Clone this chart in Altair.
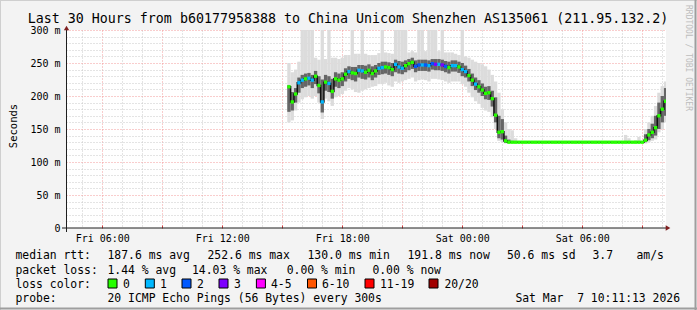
import altair as alt
import pandas as pd

# ---------------- data ----------------
# one sample every 10 minutes, first sample Fri 15:20 (hours counted from Fri 00:00)
sample_start_h = 15 + 20 / 60
sample_step_h = 10 / 60
window_start_h = 4 + 11.2 / 60      # Fri 04:11:13
window_end_h = 34 + 11.2 / 60       # Sat 10:11:13

median_ms = [
    214, 191, 203, 220, 224, 226, 227, 224, 230, 216,
    191, 221, 219, 207, 226, 224, 226, 233, 237, 235,
    234, 239, 238, 236, 239, 234, 238, 242, 243, 244,
    243, 240, 248, 244, 242, 246, 249, 251, 245, 247,
    247, 247, 246, 249, 248, 248, 247, 245, 243, 246,
    246, 244, 240, 237, 231, 224, 218, 214, 209, 204,
    205, 196, 171, 145, 146, 132, 130, 130, 130, 130,
    130, 130, 130, 130, 130, 130, 130, 130, 130, 130,
    130, 130, 130, 130, 130, 130, 130, 130, 130, 130,
    130, 130, 130, 130, 130, 130, 130, 130, 130, 130,
    130, 130, 130, 130, 130, 130, 130, 133, 141, 145,
    152, 170, 180, 192,
]
loss_pings = [
    0, 0, 0, 1, 1, 0, 1, 1, 0, 0,
    1, 0, 1, 0, 0, 0, 0, 0, 1, 0,
    0, 1, 1, 0, 0, 0, 0, 1, 1, 0,
    0, 0, 1, 1, 1, 0, 0, 0, 2, 2,
    1, 2, 1, 2, 3, 1, 3, 2, 0, 1,
    1, 0, 1, 1, 0, 0, 1, 0, 0, 0,
    0, 0, 0, 0, 0, 0, 0, 0, 0, 0,
    0, 0, 0, 0, 0, 0, 0, 0, 0, 0,
    0, 0, 0, 0, 0, 0, 0, 0, 0, 0,
    0, 0, 0, 0, 0, 0, 0, 0, 0, 0,
    0, 0, 0, 0, 0, 0, 0, 0, 0, 0,
    0, 0, 0, 0,
]
smoke_lo = [
    160, 163, 178, 190, 195, 198, 200, 196, 200, 190,
    165, 196, 192, 185, 198, 200, 203, 208, 212, 210,
    206, 205, 208, 210, 212, 214, 215, 218, 218, 220,
    216, 214, 222, 220, 222, 224, 226, 228, 222, 224,
    225, 224, 222, 226, 226, 225, 224, 222, 220, 222,
    222, 222, 218, 214, 205, 198, 192, 188, 182, 178,
    176, 168, 150, 132, 130, 128, 128, 129, 129, 129,
    129, 129, 129, 129, 129, 129, 129, 129, 129, 129,
    129, 129, 129, 129, 129, 129, 129, 129, 129, 129,
    129, 129, 129, 129, 129, 129, 129, 129, 129, 129,
    129, 129, 129, 129, 129, 129, 129, 128, 130, 132,
    134, 145, 150, 160,
]
smoke_hi = [
    250, 236, 240, 252, 310, 310, 310, 310, 258, 255,
    310, 256, 310, 258, 258, 256, 258, 262, 262, 310,
    264, 264, 310, 264, 262, 262, 262, 265, 310, 266,
    265, 264, 310, 310, 310, 310, 266, 268, 266, 310,
    310, 268, 310, 310, 310, 268, 310, 266, 266, 266,
    264, 262, 310, 260, 258, 255, 252, 250, 248, 245,
    240, 232, 222, 205, 180, 160, 150, 148, 136, 131,
    131, 131, 131, 131, 131, 131, 131, 131, 131, 131,
    131, 131, 131, 131, 131, 131, 131, 131, 131, 131,
    131, 131, 131, 131, 131, 131, 131, 131, 131, 131,
    131, 141, 136, 131, 133, 138, 132, 150, 160, 170,
    185, 205, 215, 222,
]
core_lo = [
    176, 178, 190, 205, 212, 214, 216, 212, 218, 204,
    175, 208, 206, 196, 214, 212, 215, 222, 226, 224,
    222, 228, 226, 225, 228, 224, 228, 232, 233, 234,
    232, 230, 236, 234, 233, 236, 239, 241, 236, 238,
    238, 238, 237, 240, 239, 239, 238, 236, 234, 237,
    237, 235, 230, 228, 222, 215, 209, 205, 200, 195,
    194, 184, 160, 136, 134, 129, 129, 129, 129, 129,
    129, 129, 129, 129, 129, 129, 129, 129, 129, 129,
    129, 129, 129, 129, 129, 129, 129, 129, 129, 129,
    129, 129, 129, 129, 129, 129, 129, 129, 129, 129,
    129, 129, 129, 129, 129, 129, 129, 130, 133, 136,
    140, 150, 160, 170,
]
core_hi = [
    216, 206, 212, 228, 232, 234, 235, 232, 238, 230,
    225, 232, 230, 226, 236, 234, 236, 242, 245, 244,
    244, 247, 247, 246, 248, 245, 247, 250, 252, 252,
    251, 250, 255, 253, 252, 254, 256, 258, 254, 255,
    255, 255, 254, 256, 256, 256, 255, 253, 252, 254,
    254, 252, 250, 246, 241, 234, 228, 224, 219, 214,
    215, 208, 198, 170, 165, 140, 134, 132, 131, 131,
    131, 131, 131, 131, 131, 131, 131, 131, 131, 131,
    131, 131, 131, 131, 131, 131, 131, 131, 131, 131,
    131, 131, 131, 131, 131, 131, 131, 131, 131, 131,
    131, 131, 131, 131, 131, 131, 131, 142, 150, 158,
    170, 190, 200, 212,
]

loss_levels = [0, 1, 2, 3, 5, 10, 19, 20]
loss_colors = ["#26ff00", "#00b8ff", "#0059ff", "#7e00ff",
               "#ff00ff", "#ff5500", "#ff0000", "#a10000"]
loss_legend_labels = ["0", "1", "2", "3", "4-5", "6-10", "11-19", "20/20"]

x_minor_ticks = [5, 7, 8, 10, 11, 13, 14, 16, 17, 19, 20, 22, 23, 25, 26, 28, 29, 31, 32, 34]
x_major_ticks = [6, 9, 12, 15, 18, 21, 24, 27, 30, 33]
x_label_ticks = [6, 12, 18, 24, 30]
x_labels = ["Fri 06:00", "Fri 12:00", "Fri 18:00", "Sat 00:00", "Sat 06:00"]

y_minor_ticks = [10, 20, 30, 40, 60, 70, 80, 90, 110, 120, 130, 140, 160, 170, 180, 190,
                 210, 220, 230, 240, 260, 270, 280, 290]
y_major_ticks = [50, 100, 150, 200, 250, 300]
y_label_ticks = [0, 50, 100, 150, 200, 250, 300]
y_labels = ["0\u00a0\u00a0", "50 m", "100 m", "150 m", "200 m", "250 m", "300 m"]

title_text = "Last 30 Hours from b60177958388 to China Unicom Shenzhen AS135061 (211.95.132.2)"
rtt_line = [("median rtt:", 15.5), ("187.6 ms avg", 107.5), ("252.6 ms max", 207.5),
            ("130.0 ms min", 307.5), ("191.8 ms now", 407.5), ("50.6 ms sd", 507),
            ("3.7", 592.5), ("am/s", 636.5)]
loss_line = [("packet loss:", 15.5), ("1.44 % avg", 107.5), ("14.03 % max", 192),
             ("0.00 % min", 286.7), ("0.00 % now", 372.4)]
probe_text = "20 ICMP Echo Pings (56 Bytes) every 300s"
stamp_text = "Sat Mar\u00a0\u00a07 10:11:13 2026"

# ---------------- layout ----------------
PAD_L, PAD_T = 66, 30
W, H = 600, 198
TOTAL_W, TOTAL_H = 697, 310
MONO = "DejaVu Sans Mono"

df = pd.DataFrame({
    "med": median_ms, "loss": loss_pings,
    "lo": smoke_lo, "hi": smoke_hi, "clo": core_lo, "chi": core_hi,
})
df["t"] = sample_start_h + df.index * sample_step_h
df["t0"] = df["t"] - sample_step_h / 2
df["t1"] = df["t"] + sample_step_h / 2

xs = alt.Scale(domain=[window_start_h, window_end_h], nice=False, zero=False)
ys = alt.Scale(domain=[0, 300], nice=False, zero=False)


def tern(ticks, labels):
    expr = "''"
    for v, l in reversed(list(zip(ticks, labels))):
        expr = f"datum.value == {v} ? '{l}' : ({expr})"
    return expr


base = alt.Chart(df)
GRID_GREY = "#c9c9c9"
GRID_RED = "#f29a9a"

grid_minor = base.mark_point(opacity=0).encode(
    x=alt.X("t:Q", scale=xs, axis=alt.Axis(
        orient="bottom", values=x_minor_ticks, grid=True, gridColor=GRID_GREY,
        gridDash=[1, 2], labels=False, ticks=False, domain=False, title=None)),
    y=alt.Y("med:Q", scale=ys, axis=alt.Axis(
        orient="left", values=y_minor_ticks, grid=True, gridColor=GRID_GREY,
        gridDash=[1, 2], labels=False, ticks=False, domain=False, title=None)),
)
grid_major = base.mark_point(opacity=0).encode(
    x=alt.X("t:Q", scale=xs, axis=alt.Axis(
        orient="bottom", values=x_major_ticks, grid=True, gridColor=GRID_RED,
        gridDash=[1, 2], labels=False, ticks=False, domain=False, title=None)),
    y=alt.Y("med:Q", scale=ys, axis=alt.Axis(
        orient="left", values=y_major_ticks, grid=True, gridColor=GRID_RED,
        gridDash=[1, 2], labels=False, ticks=False, domain=False, title=None)),
)
label_axes = base.mark_point(opacity=0).encode(
    x=alt.X("t:Q", scale=xs, axis=alt.Axis(
        orient="bottom", values=x_label_ticks, grid=False, ticks=False, domain=False,
        labelExpr=tern(x_label_ticks, x_labels), labelFont=MONO, labelFontSize=10,
        labelColor="#000000", labelPadding=5, labelFlush=False, labelOverlap=False,
        title=None)),
    y=alt.Y("med:Q", scale=ys, axis=alt.Axis(
        orient="left", values=y_label_ticks, grid=False, ticks=False, domain=False,
        labelExpr=tern(y_label_ticks, y_labels), labelFont=MONO, labelFontSize=10,
        labelColor="#000000", labelPadding=6, labelFlush=False, labelOverlap=False,
        labelBaseline="middle", title=None)),
)
tick_axis = base.mark_point(opacity=0).encode(
    x=alt.X("t:Q", scale=xs, axis=alt.Axis(
        orient="bottom", values=x_major_ticks, grid=False, ticks=True, tickColor="#d04040",
        tickSize=3, offset=-3, labels=False, domain=False, title=None)),
)

smoke = base.mark_rect(color="#dcdcdc", clip=True).encode(
    x=alt.X("t0:Q", scale=xs, axis=None), x2="t1:Q",
    y=alt.Y("lo:Q", scale=ys, axis=None), y2="hi:Q")
core = base.mark_rect(color="#666666", clip=True).encode(
    x=alt.X("t0:Q", scale=xs, axis=None), x2="t1:Q",
    y=alt.Y("clo:Q", scale=ys, axis=None), y2="chi:Q")
med_line = base.mark_line(color="#111111", strokeWidth=1.5, interpolate="step", clip=True).encode(
    x=alt.X("t:Q", scale=xs, axis=None), y=alt.Y("med:Q", scale=ys, axis=None))
med_pts = base.mark_square(size=11, opacity=1, strokeWidth=0, clip=True).encode(
    x=alt.X("t:Q", scale=xs, axis=None), y=alt.Y("med:Q", scale=ys, axis=None),
    color=alt.Color("loss:N", scale=alt.Scale(domain=loss_levels, range=loss_colors), legend=None))

one = pd.DataFrame({"a": [0]})


def txt(s, x, y, size=11.4, align="left", color="#000000", angle=0, baseline="alphabetic"):
    return alt.Chart(one).mark_text(
        text=s, align=align, baseline=baseline, font=MONO, fontSize=size,
        color=color, angle=angle).encode(
        x=alt.value(x - PAD_L), y=alt.value(y - PAD_T))


def rule(x1, y1, x2, y2, color, width=1):
    return alt.Chart(one).mark_rule(color=color, strokeWidth=width).encode(
        x=alt.value(x1 - PAD_L), x2=alt.value(x2 - PAD_L),
        y=alt.value(y1 - PAD_T), y2=alt.value(y2 - PAD_T))


deco = []
# axis lines and arrows
deco.append(rule(62, 228, 666, 228, "#1f1f1f"))
deco.append(rule(66.5, 232, 66.5, 30, "#1f1f1f"))
deco.append(alt.Chart(one).mark_point(shape="triangle-right", filled=True, size=28,
                                      color="#7f1f1f", opacity=1).encode(
    x=alt.value(668 - PAD_L), y=alt.value(228 - PAD_T)))
deco.append(alt.Chart(one).mark_point(shape="triangle-up", filled=True, size=28,
                                      color="#7f1f1f", opacity=1).encode(
    x=alt.value(66.5 - PAD_L), y=alt.value(28 - PAD_T)))
# frame
deco.append(rule(0, 0.5, 697, 0.5, "#cfcfcf"))
deco.append(rule(0.5, 0, 0.5, 310, "#cfcfcf"))
deco.append(rule(695.5, 0, 695.5, 310, "#9e9e9e", 2))
deco.append(rule(0, 308.5, 697, 308.5, "#9e9e9e", 2))
# texts
deco.append(txt(title_text, 348, 23, size=13.3, align="center"))
deco.append(txt("Seconds", 14, 126, size=10.5, angle=270, align="center", baseline="middle"))
deco.append(txt("RRDTOOL / TOBI OETIKER", 688, 5, size=8, color="#bdbdbd", angle=90,
                baseline="middle"))
for s, x in rtt_line:
    deco.append(txt(s, x, 259))
for s, x in loss_line:
    deco.append(txt(s, x, 273.5))
deco.append(txt("loss color:", 15.5, 288))
box_x = [108, 145.3, 182, 219, 256.4, 307.5, 365, 429]
lab_x = [123, 160, 197, 234, 271, 322, 380, 444.4]
for col, lab, bx, lx in zip(loss_colors, loss_legend_labels, box_x, lab_x):
    deco.append(alt.Chart(one).mark_rect(fill=col, stroke="#000000", strokeWidth=1).encode(
        x=alt.value(bx - PAD_L), x2=alt.value(bx + 9 - PAD_L),
        y=alt.value(279 - PAD_T), y2=alt.value(288 - PAD_T)))
    deco.append(txt(lab, lx, 288))
deco.append(txt("probe:", 15.5, 302))
deco.append(txt(probe_text, 107.5, 302))
deco.append(txt(stamp_text, 680, 302, align="right"))

chart = alt.layer(
    grid_minor, grid_major, label_axes, tick_axis,
    smoke, core, med_line, med_pts, *deco
).resolve_axis(x="independent", y="independent").properties(
    width=W, height=H,
    padding={"left": PAD_L, "top": PAD_T, "right": TOTAL_W - PAD_L - W,
             "bottom": TOTAL_H - PAD_T - H},
    autosize=alt.AutoSizeParams(type="none"),
    background="#f3f3f3",
).configure_view(fill="#ffffff", stroke=None)

chart.save("out.html", embed_options={"renderer": "svg", "actions": False})
